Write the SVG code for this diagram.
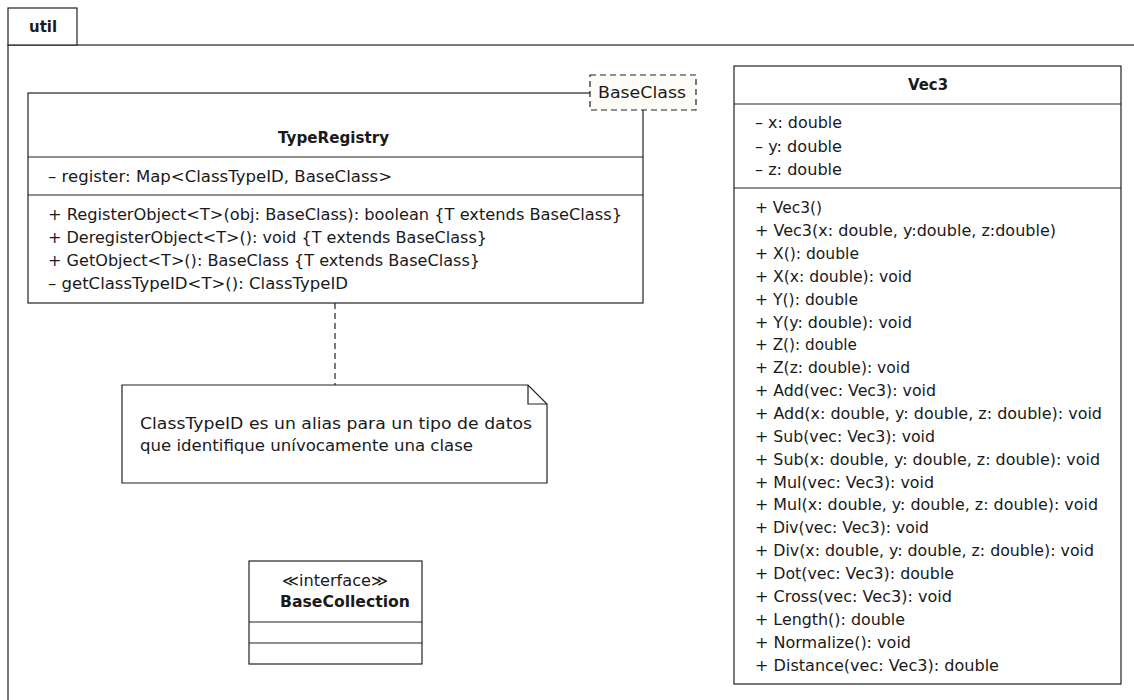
<svg xmlns="http://www.w3.org/2000/svg" width="1134" height="700" viewBox="0 0 1134 700">
  <defs>
    <style>
      text { font-family: "DejaVu Sans", "Noto Sans", sans-serif; font-size: 15.5px; fill: #1a1a1a; }
      .b { font-weight: bold; }
      .box { fill: #ffffff; stroke: #222222; stroke-width: 1.2; }
      .sep { stroke: #222222; stroke-width: 1.2; fill: none; }
      .dash { stroke: #222222; stroke-width: 1.2; fill: none; stroke-dasharray: 6 4; }
    </style>
  </defs>
  <rect width="1134" height="700" fill="#ffffff"/>

  <!-- package frame -->
  <g id="pkg-util">
    <rect class="box" x="8" y="45" width="1140" height="670"/>
    <rect class="box" x="8" y="8" width="69" height="37"/>
    <text class="b" x="29" y="32" textLength="28" lengthAdjust="spacingAndGlyphs">util</text>
  </g>

  <!-- connectors -->
  <g id="connectors">
    <line class="dash" x1="335" y1="303" x2="335" y2="385"/>
  </g>

  <g id="TypeRegistry">
    <rect class="box" x="28" y="93" width="615" height="210"/>
    <line class="sep" x1="28" y1="157" x2="643" y2="157"/>
    <line class="sep" x1="28" y1="195" x2="643" y2="195"/>
    <text class="b" x="278" y="143" textLength="111" lengthAdjust="spacingAndGlyphs">TypeRegistry</text>
    <text x="48" y="182" textLength="344" lengthAdjust="spacingAndGlyphs">– register: Map&lt;ClassTypeID, BaseClass&gt;</text>
    <text x="48" y="220" textLength="574" lengthAdjust="spacingAndGlyphs">+ RegisterObject&lt;T&gt;(obj: BaseClass): boolean {T extends BaseClass}</text>
    <text x="48" y="243" textLength="439" lengthAdjust="spacingAndGlyphs">+ DeregisterObject&lt;T&gt;(): void {T extends BaseClass}</text>
    <text x="48" y="266" textLength="432" lengthAdjust="spacingAndGlyphs">+ GetObject&lt;T&gt;(): BaseClass {T extends BaseClass}</text>
    <text x="48" y="289" textLength="300" lengthAdjust="spacingAndGlyphs">– getClassTypeID&lt;T&gt;(): ClassTypeID</text>
  </g>

  <g id="TypeRegistry-template">
    <rect x="590" y="75" width="106" height="35" fill="#fdfbf5" stroke="#222222" stroke-width="1.2" stroke-dasharray="6 4"/>
    <text x="598" y="98" textLength="88" lengthAdjust="spacingAndGlyphs">BaseClass</text>
  </g>

  <g id="Vec3">
    <rect class="box" x="734" y="66" width="387" height="618"/>
    <line class="sep" x1="734" y1="104" x2="1121" y2="104"/>
    <line class="sep" x1="734" y1="188" x2="1121" y2="188"/>
    <text class="b" x="908" y="90" textLength="40" lengthAdjust="spacingAndGlyphs">Vec3</text>
    <text x="755" y="128" textLength="87" lengthAdjust="spacingAndGlyphs">– x: double</text>
    <text x="755" y="152" textLength="87" lengthAdjust="spacingAndGlyphs">– y: double</text>
    <text x="755" y="175" textLength="87" lengthAdjust="spacingAndGlyphs">– z: double</text>
    <text x="755" y="213" textLength="67" lengthAdjust="spacingAndGlyphs">+ Vec3()</text>
    <text x="755" y="236" textLength="301" lengthAdjust="spacingAndGlyphs">+ Vec3(x: double, y:double, z:double)</text>
    <text x="755" y="259" textLength="104" lengthAdjust="spacingAndGlyphs">+ X(): double</text>
    <text x="755" y="282" textLength="157" lengthAdjust="spacingAndGlyphs">+ X(x: double): void</text>
    <text x="755" y="305" textLength="103" lengthAdjust="spacingAndGlyphs">+ Y(): double</text>
    <text x="755" y="328" textLength="157" lengthAdjust="spacingAndGlyphs">+ Y(y: double): void</text>
    <text x="755" y="350" textLength="102" lengthAdjust="spacingAndGlyphs">+ Z(): double</text>
    <text x="755" y="373" textLength="155" lengthAdjust="spacingAndGlyphs">+ Z(z: double): void</text>
    <text x="755" y="396" textLength="181" lengthAdjust="spacingAndGlyphs">+ Add(vec: Vec3): void</text>
    <text x="755" y="419" textLength="347" lengthAdjust="spacingAndGlyphs">+ Add(x: double, y: double, z: double): void</text>
    <text x="755" y="442" textLength="180" lengthAdjust="spacingAndGlyphs">+ Sub(vec: Vec3): void</text>
    <text x="755" y="465" textLength="345" lengthAdjust="spacingAndGlyphs">+ Sub(x: double, y: double, z: double): void</text>
    <text x="755" y="488" textLength="179" lengthAdjust="spacingAndGlyphs">+ Mul(vec: Vec3): void</text>
    <text x="755" y="510" textLength="343" lengthAdjust="spacingAndGlyphs">+ Mul(x: double, y: double, z: double): void</text>
    <text x="755" y="533" textLength="174" lengthAdjust="spacingAndGlyphs">+ Div(vec: Vec3): void</text>
    <text x="755" y="556" textLength="339" lengthAdjust="spacingAndGlyphs">+ Div(x: double, y: double, z: double): void</text>
    <text x="755" y="579" textLength="199" lengthAdjust="spacingAndGlyphs">+ Dot(vec: Vec3): double</text>
    <text x="755" y="602" textLength="197" lengthAdjust="spacingAndGlyphs">+ Cross(vec: Vec3): void</text>
    <text x="755" y="625" textLength="150" lengthAdjust="spacingAndGlyphs">+ Length(): double</text>
    <text x="755" y="648" textLength="156" lengthAdjust="spacingAndGlyphs">+ Normalize(): void</text>
    <text x="755" y="671" textLength="244" lengthAdjust="spacingAndGlyphs">+ Distance(vec: Vec3): double</text>
  </g>

  <g id="note">
    <path class="box" d="M122 385 H528 L547 404 V483 H122 Z"/>
    <path class="sep" d="M528 385 V404 H547"/>
    <text x="140" y="429" textLength="392" lengthAdjust="spacingAndGlyphs">ClassTypeID es un alias para un tipo de datos</text>
    <text x="140" y="451" textLength="333" lengthAdjust="spacingAndGlyphs">que identifique unívocamente una clase</text>
  </g>

  <g id="BaseCollection">
    <rect class="box" x="249" y="561" width="173" height="103"/>
    <line class="sep" x1="249" y1="622" x2="422" y2="622"/>
    <line class="sep" x1="249" y1="643" x2="422" y2="643"/>
    <text x="282" y="586" textLength="106" lengthAdjust="spacingAndGlyphs">≪interface≫</text>
    <text class="b" x="280" y="607" textLength="130" lengthAdjust="spacingAndGlyphs">BaseCollection</text>
  </g>
</svg>
